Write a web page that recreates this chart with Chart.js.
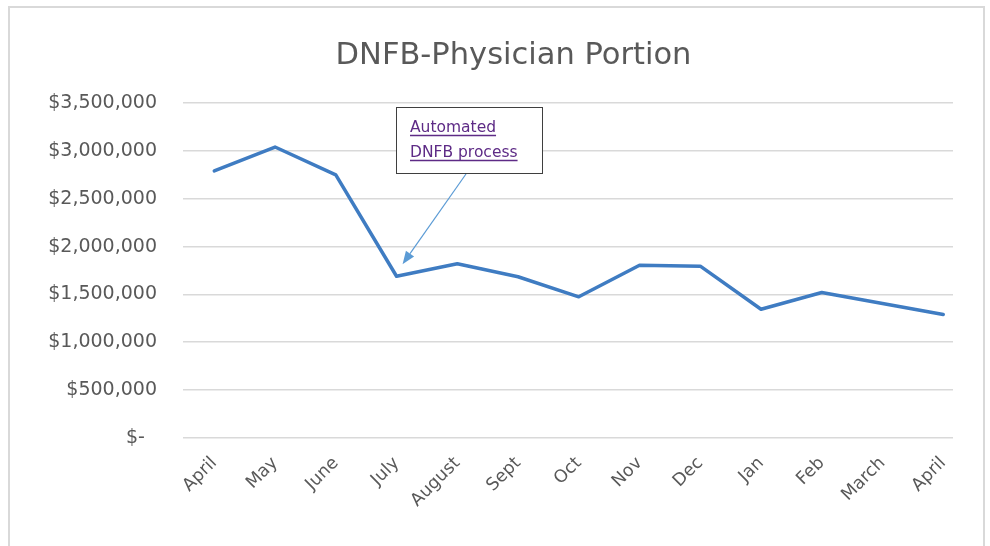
<!DOCTYPE html>
<html>
<head>
<meta charset="utf-8">
<script src="https://cdn.jsdelivr.net/npm/chart.js@4.4.1/dist/chart.umd.min.js"></script>
<style>
  html, body { margin: 0; padding: 0; background: #ffffff; }
  canvas { display: block; }
</style>
</head>
<body>
<canvas id="c" width="990" height="546"></canvas>
<script>
const chartTitle = 'DNFB-Physician Portion';
const categories = ['April', 'May', 'June', 'July', 'August', 'Sept', 'Oct', 'Nov', 'Dec', 'Jan', 'Feb', 'March', 'April'];
const values = [2790000, 3040000, 2750000, 1690000, 1820000, 1685000, 1475000, 1805000, 1795000, 1345000, 1520000, 1405000, 1290000];
const yTicks = [0, 500000, 1000000, 1500000, 2000000, 2500000, 3000000, 3500000];
const annotationLines = ['Automated', 'DNFB process'];
const annotatedIndex = 3;

const fontFamily = '"DejaVu Sans", "Liberation Sans", sans-serif';
const textGray = '#595959';

const framePlugin = {
  id: 'frame',
  beforeDraw(chart) {
    const ctx = chart.ctx;
    ctx.save();
    ctx.fillStyle = '#ffffff';
    ctx.fillRect(0, 0, chart.width, chart.height);
    ctx.strokeStyle = '#d9d9d9';
    ctx.lineWidth = 2;
    ctx.strokeRect(9, 7, 975, 600);
    // chart title
    ctx.fillStyle = textGray;
    ctx.font = '30.5px ' + fontFamily;
    ctx.textAlign = 'center';
    ctx.textBaseline = 'middle';
    ctx.fillText(chartTitle, 513.5, 56);
    ctx.restore();
  }
};

const calloutPlugin = {
  id: 'callout',
  afterDraw(chart) {
    const ctx = chart.ctx;
    const xs = chart.scales.x, ys = chart.scales.y;
    const px = xs.getPixelForValue(annotatedIndex);
    const py = ys.getPixelForValue(values[annotatedIndex]);
    const tipX = px + 6, tipY = py - 12;
    const startX = 466, startY = 174;
    ctx.save();
    // arrow
    ctx.strokeStyle = '#5b9bd5';
    ctx.fillStyle = '#5b9bd5';
    ctx.lineWidth = 1.2;
    const ang = Math.atan2(tipY - startY, tipX - startX);
    const headLen = 13, headW = 5;
    const bx = tipX - headLen * Math.cos(ang), by = tipY - headLen * Math.sin(ang);
    ctx.beginPath();
    ctx.moveTo(startX, startY);
    ctx.lineTo(bx, by);
    ctx.stroke();
    ctx.beginPath();
    ctx.moveTo(tipX, tipY);
    ctx.lineTo(bx + headW * Math.sin(ang), by - headW * Math.cos(ang));
    ctx.lineTo(bx - headW * Math.sin(ang), by + headW * Math.cos(ang));
    ctx.closePath();
    ctx.fill();
    // box
    ctx.fillStyle = '#ffffff';
    ctx.fillRect(396, 107, 146, 66);
    ctx.strokeStyle = '#3f3f3f';
    ctx.lineWidth = 1;
    ctx.strokeRect(396.5, 107.5, 146, 66);
    // text
    ctx.fillStyle = '#5e2b86';
    ctx.strokeStyle = '#5e2b86';
    ctx.font = '15.5px ' + fontFamily;
    ctx.textAlign = 'left';
    ctx.textBaseline = 'alphabetic';
    const lx = 410;
    const baselines = [132, 157];
    annotationLines.forEach((t, i) => {
      ctx.fillText(t, lx, baselines[i]);
      const w = ctx.measureText(t).width;
      ctx.beginPath();
      ctx.moveTo(lx, baselines[i] + 3.5);
      ctx.lineTo(lx + w, baselines[i] + 3.5);
      ctx.lineWidth = 1.4;
      ctx.stroke();
    });
    ctx.restore();
  }
};

new Chart(document.getElementById('c'), {
  type: 'line',
  data: {
    datasets: [{
      data: categories.map((c, i) => ({ x: i, y: values[i] })),
      borderColor: '#3f7cc2',
      borderWidth: 3.5,
      pointRadius: 0,
      pointHoverRadius: 0,
      tension: 0,
      fill: false,
      borderJoinStyle: 'round',
      borderCapStyle: 'round'
    }]
  },
  options: {
    responsive: false,
    animation: false,
    events: [],
    layout: { padding: { left: 30, right: 37, top: 103, bottom: 0 } },
    plugins: {
      legend: { display: false },
      tooltip: { enabled: false },
      title: { display: false }
    },
    scales: {
      x: {
        type: 'linear',
        min: -0.515,
        max: 12.16,
        grid: { display: false, drawTicks: false },
        border: { display: false },
        afterBuildTicks(scale) { scale.ticks = categories.map((c, i) => ({ value: i })); },
        afterFit(scale) { scale.height = 108; },
        ticks: {
          autoSkip: false,
          minRotation: 45,
          maxRotation: 45,
          padding: 15,
          color: textGray,
          font: { family: fontFamily, size: 17.5 },
          callback: (v) => categories[v]
        }
      },
      y: {
        min: 0,
        max: 3500000,
        grid: { color: '#d9d9d9', lineWidth: 1.6, drawTicks: false },
        border: { display: false },
        afterBuildTicks(scale) { scale.ticks = yTicks.map(v => ({ value: v })); },
        afterFit(scale) { scale.width = 153; },
        ticks: {
          padding: 26,
          color: textGray,
          font: { family: fontFamily, size: 19 },
          callback: (v) => v === 0 ? '$-  ' : '$' + Number(v).toLocaleString('en-US')
        }
      }
    }
  },
  plugins: [framePlugin, calloutPlugin]
});
</script>
</body>
</html>
